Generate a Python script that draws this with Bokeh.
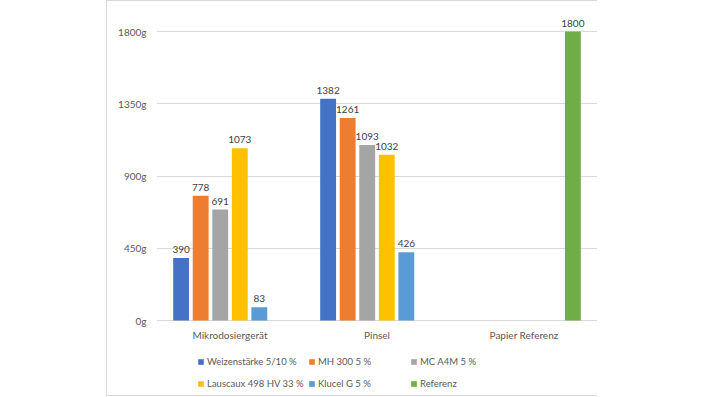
from bokeh.plotting import figure
from bokeh.models import (ColumnDataSource, FactorRange, Range1d, FixedTicker,
                          PrintfTickFormatter, LabelSet, Legend, LegendItem)
from bokeh.core.properties import value
from bokeh.transform import dodge
from bokeh.embed import file_html
from bokeh.resources import INLINE

categories = ["Mikrodosiergerät", "Pinsel", "Papier Referenz"]
series_names = ["Weizenstärke 5/10 %", "MH 300 5 %", "MC A4M 5 %",
                "Lauscaux 498 HV 33 %", "Klucel G 5 %", "Referenz"]
weizen = [390, 1382, None]
mh300 = [778, 1261, None]
mca4m = [691, 1093, None]
lauscaux = [1073, 1032, None]
klucel = [83, 426, None]
referenz = [None, None, 1800]
series_values = [weizen, mh300, mca4m, lauscaux, klucel, referenz]
colors = ["#4472C4", "#ED7D31", "#A5A5A5", "#FFC000", "#5B9BD5", "#70AD47"]
y_ticks = [0, 450, 900, 1350, 1800]

FONT = "Lato"
TXT = "#595959"

# frame spans the plot area plus the band below it (category names + legend)
FRAME_H = 380
SPAN = FRAME_H * 1800 / 289
p = figure(x_range=FactorRange(factors=categories, range_padding=0),
           y_range=Range1d(1900 - SPAN, 1900),
           width=490, height=394, output_backend="svg", toolbar_location=None,
           min_border_left=49, min_border_right=0, min_border_top=14,
           min_border_bottom=0)
p.frame_width = 441
p.frame_height = FRAME_H
p.styles = {"margin-left": "106px", "border-top": "1px solid #d9d9d9",
            "border-left": "1px solid #d9d9d9",
            "border-bottom": "1px solid #d9d9d9"}
p.outline_line_color = None
p.background_fill_color = "white"
p.border_fill_color = "white"

p.yaxis.ticker = FixedTicker(ticks=y_ticks)
p.yaxis.formatter = PrintfTickFormatter(format="%dg")
p.yaxis.axis_line_color = None
p.yaxis.major_tick_line_color = None
p.yaxis.minor_tick_line_color = None
p.yaxis.major_label_text_font = FONT
p.yaxis.major_label_text_font_size = "10px"
p.yaxis.major_label_text_color = TXT
p.yaxis.major_label_standoff = 4
p.xaxis.visible = False

p.xgrid.grid_line_color = None
p.ygrid.ticker = FixedTicker(ticks=y_ticks)
p.ygrid.grid_line_color = "#d9d9d9"

# category labels under the baseline
cat_src = ColumnDataSource(dict(cat=categories, y=[0] * len(categories)))
p.add_layout(LabelSet(x="cat", y="y", text="cat", source=cat_src,
                      text_align="center", text_baseline="top", y_offset=-8,
                      text_font=value(FONT), text_font_size=value("10px"),
                      text_color=value(TXT)))

step = 0.133
bw = 0.108
renderers = {}
for i, (name, vals, col) in enumerate(zip(series_names, series_values, colors)):
    off = (i - 2.5) * step
    tops = [float("nan") if v is None else v for v in vals]
    lbls = ["" if v is None else str(v) for v in vals]
    src = ColumnDataSource(dict(cat=categories, top=tops, lbl=lbls))
    r = p.vbar(x=dodge("cat", off, range=p.x_range), top="top", width=bw,
               source=src, fill_color=col, line_color=None)
    lab = LabelSet(x=dodge("cat", off, range=p.x_range), y="top", text="lbl",
                   source=src, text_align="center", text_baseline="bottom",
                   y_offset=5, text_font=value(FONT), text_font_size=value("10px"),
                   text_color=value("#404040"))
    p.add_layout(lab)
    renderers[name] = r

legend_style = dict(label_text_font=FONT, label_text_font_size="9.5px",
                    label_text_color=TXT, glyph_width=7, glyph_height=7,
                    label_standoff=3, spacing=0, padding=0, margin=0,
                    border_line_color=None, background_fill_alpha=0,
                    label_height=22, label_width=101)
# legend columns 1-2 and column 3 placed separately (equal-width columns)
cols12 = [0, 1, 3, 4]
col3 = [2, 5]
leg1 = Legend(items=[LegendItem(label=series_names[k],
                                renderers=[renderers[series_names[k]]]) for k in cols12],
              orientation="horizontal", ncols=2, location=(41, 1), **legend_style)
leg2 = Legend(items=[LegendItem(label=series_names[k],
                                renderers=[renderers[series_names[k]]]) for k in col3],
              orientation="vertical", location=(254, 1), **legend_style)
p.add_layout(leg1, "center")
p.add_layout(leg2, "center")

open("out.html", "w").write(file_html(p, INLINE))
